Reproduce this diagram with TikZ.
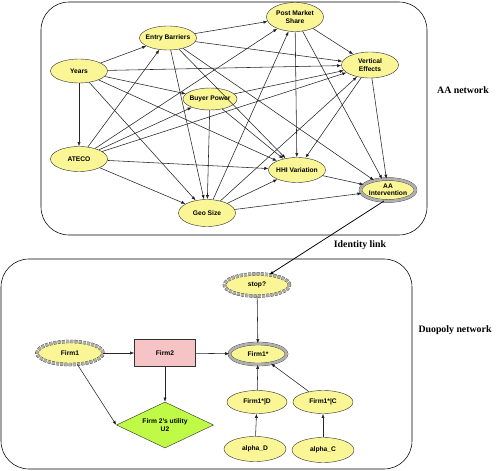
\documentclass[tikz,border=0pt]{standalone}
\usepackage{fontspec}
\setmainfont{Liberation Serif}
\setsansfont{Liberation Sans}
\usetikzlibrary{shapes.geometric,arrows.meta}
\definecolor{bnyellow}{RGB}{250,246,150}
\definecolor{bnpink}{RGB}{246,196,196}
\definecolor{bngreen}{RGB}{190,250,70}
\definecolor{bnring}{RGB}{175,175,175}

\begin{document}
\begin{tikzpicture}[x=0.05cm,y=-0.05cm,
  >={Latex[length=6pt,width=4.5pt]},
  bn/.style={shape=ellipse,draw=black!80,line width=0.6pt,fill=bnyellow,inner xsep=-4pt,inner ysep=0pt,
    minimum width=2.85cm,minimum height=1.2cm,align=center,
    font=\sffamily\bfseries\fontsize{9.5}{10.5}\selectfont},
  ringbn/.style={bn,line width=0.4pt,double=bnring,double distance=4pt},
  dashbn/.style={ringbn,dash pattern=on 4pt off 2pt,preaction={draw=bnring,line width=4.8pt}},
  netlabel/.style={font=\bfseries\fontsize{14}{16}\selectfont},
  link/.style={draw=black!85,line width=0.8pt}]
\useasboundingbox (0,0) rectangle (496,471);

% AA network
\draw[line width=0.8pt,rounded corners=1.4cm] (41,2) rectangle (427,235);
\node(years) at (79,71)[bn]                          {Years};
\node(entry) at (168,38)[bn]                         {Entry Barriers};
\node(post) at (295,17)[bn,minimum height=1.45cm]    {Post Market\\Share};
\node(vert) at (370,65)[bn,minimum height=1.3cm]     {Vertical\\Effects};
\node(buyer) at (210,99)[bn,minimum width=2.7cm,minimum height=1.1cm] {Buyer Power};
\node(ateco) at (79,159)[bn,minimum height=1.25cm]   {ATECO};
\node(hhi) at (297,170)[bn,minimum height=1.25cm]    {HHI Variation};
\node(aai) at (388,190)[ringbn,minimum width=2.75cm,minimum height=1.1cm] {AA\\Intervention};
\node(geo) at (207,213)[bn,minimum height=1.35cm]    {Geo Size};
\node(aanet) at (463,90)[netlabel]                   {AA network};

\path [->,link]
  (years)  edge (entry)
  (years)  edge (vert)
  (years)  edge (buyer)
  (years)  edge (ateco)
  (years)  edge (hhi)
  (years)  edge (geo)
  (entry)  edge (post)
  (entry)  edge (vert)
  (entry)  edge (hhi)
  (entry)  edge (aai)
  (entry)  edge (geo)
  (ateco)  edge (entry)
  (ateco)  edge (post)
  (ateco)  edge (buyer)
  (ateco)  edge (vert)
  (ateco)  edge (hhi)
  (ateco)  edge (geo)
  (buyer)  edge (vert)
  (buyer)  edge (hhi)
  (buyer)  edge (geo)
  (geo)    edge (post)
  (geo)    edge (vert)
  (geo)    edge (hhi)
  (geo)    edge (aai)
  (post)   edge (vert)
  (post)   edge (hhi)
  (post)   edge (aai)
  (vert)   edge (hhi)
  (vert)   edge (aai)
  (hhi)    edge (aai);

% Duopoly network
\draw[line width=0.8pt,rounded corners=1.4cm] (1,259) rectangle (412,469);
\node(stop) at (257,285)[dashbn,minimum width=3.25cm,minimum height=1.1cm]  {stop?};
\node(firm1) at (70,353)[dashbn,minimum width=3.3cm,minimum height=1.15cm]  {Firm1};
\node(firm2) at (165,353)[draw=black!80,line width=0.6pt,fill=bnpink,minimum width=3.05cm,minimum height=1.35cm,
  font=\sffamily\bfseries\fontsize{9.5}{10.5}\selectfont] {Firm2};
\node(firmstar) at (258,354)[ringbn,minimum width=2.85cm,minimum height=1.05cm] {Firm1*};
\node(util) at (165,425)[shape=diamond,draw=black!80,line width=0.6pt,fill=bngreen,aspect=2,inner sep=0pt,
  minimum width=4.85cm,minimum height=2.3cm,align=center,
  font=\sffamily\bfseries\fontsize{9.5}{10.5}\selectfont] {Firm 2's utility\\U2};
\node(firmD) at (257,402)[bn,minimum width=3cm,minimum height=1.15cm] {Firm1*|D};
\node(firmC) at (323,402)[bn,minimum width=3cm,minimum height=1.15cm] {Firm1*|C};
\node(alphaD) at (255,449)[bn,minimum width=3.1cm,minimum height=1.25cm] {alpha\_D};
\node(alphaC) at (323,450)[bn,minimum width=3.1cm,minimum height=1.25cm] {alpha\_C};
\node(duonet) at (455,330)[netlabel] {Duopoly network};

\path [->,link]
  (firm1)  edge (firm2)
  (firm1)  edge (util.west)
  (firm2)  edge (util)
  (firm2)  edge (firmstar)
  (stop)   edge (firmstar)
  (firmD)  edge (firmstar)
  (firmC)  edge (firmstar)
  (alphaD) edge (firmD)
  (alphaC) edge (firmC);

% identity link
\node(idlink) at (360,245)[netlabel] {Identity link};
\draw[->,line width=1.1pt] (aai.250) -- (stop.40);

\end{tikzpicture}
\end{document}
